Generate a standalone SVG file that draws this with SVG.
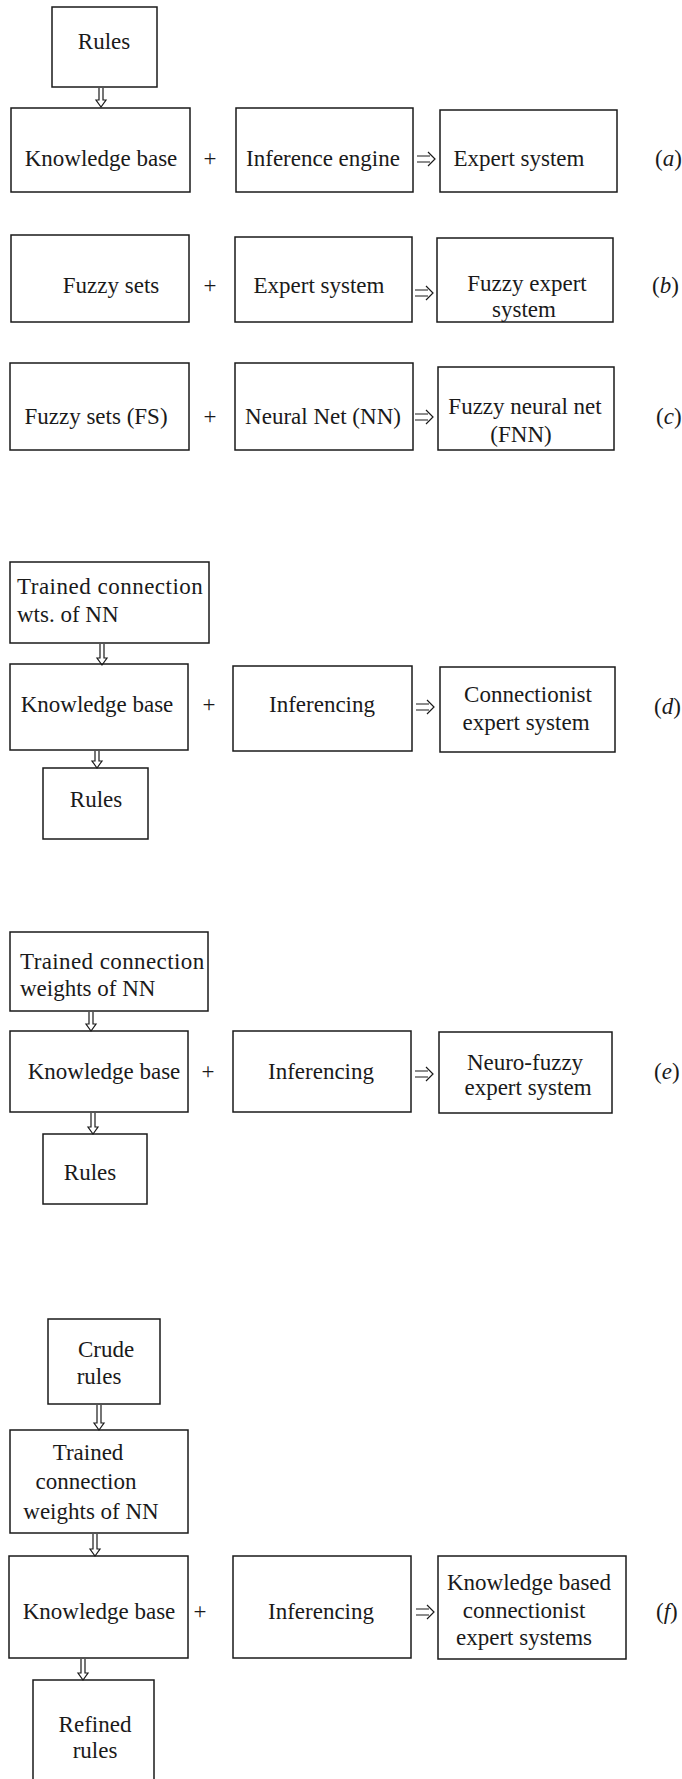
<svg xmlns="http://www.w3.org/2000/svg" width="682" height="1779" viewBox="0 0 682 1779">
<style>
.box{fill:none;stroke:#1a1a1a;stroke-width:1.5}
.t{font-family:"Liberation Serif","Times New Roman",serif;font-size:23px;fill:#1a1a1a;text-anchor:middle}
.l{font-family:"Liberation Serif","Times New Roman",serif;font-size:23px;fill:#1a1a1a;text-anchor:start}
.i{font-style:italic}
.arr{fill:none;stroke:#1a1a1a;stroke-width:1.2;stroke-linejoin:miter}
</style>
<rect width="682" height="1779" fill="#ffffff"/>
<g id="connectors">
<path class="arr" d="M99,88 V100 H96 L101,107 L106,100 H103 V88"/>
<path class="arr" d="M417,156 H430 M417,162 H430 M428,152 L435,159 L428,166"/>
<path class="arr" d="M415,290 H428 M415,296 H428 M426,286 L433,293 L426,300"/>
<path class="arr" d="M415,414 H428 M415,420 H428 M426,410 L433,417 L426,424"/>
<path class="arr" d="M100,644 V658 H97 L102,665 L107,658 H104 V644"/>
<path class="arr" d="M95,751 V761 H92 L97,768 L102,761 H99 V751"/>
<path class="arr" d="M416,704 H429 M416,710 H429 M427,700 L434,707 L427,714"/>
<path class="arr" d="M89,1012 V1024 H86 L91,1031 L96,1024 H93 V1012"/>
<path class="arr" d="M91,1113 V1127 H88 L93,1134 L98,1127 H95 V1113"/>
<path class="arr" d="M415,1071 H428 M415,1077 H428 M426,1067 L433,1074 L426,1081"/>
<path class="arr" d="M97,1405 V1423 H94 L99,1430 L104,1423 H101 V1405"/>
<path class="arr" d="M93,1534 V1549 H90 L95,1556 L100,1549 H97 V1534"/>
<path class="arr" d="M81,1659 V1673 H78 L83,1680 L88,1673 H85 V1659"/>
<path class="arr" d="M416,1609 H429 M416,1615 H429 M427,1605 L434,1612 L427,1619"/>
</g>
<g id="row-a">
<g id="a-rules"><rect class="box" x="52" y="7" width="105" height="80"/><text class="t" x="104" y="49">Rules</text></g>
<g id="a-kb"><rect class="box" x="11" y="108" width="179" height="84"/><text class="t" x="101" y="166">Knowledge base</text></g>
<g id="a-plus"><text class="t" x="210" y="166">+</text></g>
<g id="a-ie"><rect class="box" x="236" y="108" width="177" height="84"/><text class="t" x="323" y="166">Inference engine</text></g>
<g id="a-es"><rect class="box" x="440" y="110" width="177" height="82"/><text class="t" x="519" y="166">Expert system</text></g>
<g id="a-label"><text class="l" x="655" y="166">(<tspan class="i">a</tspan>)</text></g>
</g>
<g id="row-b">
<g id="b-fs"><rect class="box" x="11" y="235" width="178" height="87"/><text class="t" x="111" y="293">Fuzzy sets</text></g>
<g id="b-plus"><text class="t" x="210" y="293">+</text></g>
<g id="b-es"><rect class="box" x="235" y="237" width="177" height="85"/><text class="t" x="319" y="293">Expert system</text></g>
<g id="b-fes"><rect class="box" x="437" y="238" width="176" height="84"/><text class="t" x="527" y="291">Fuzzy expert</text><text class="t" x="524" y="317">system</text></g>
<g id="b-label"><text class="l" x="652" y="293">(<tspan class="i">b</tspan>)</text></g>
</g>
<g id="row-c">
<g id="c-fs"><rect class="box" x="10" y="363" width="179" height="87"/><text class="t" x="96" y="424">Fuzzy sets (FS)</text></g>
<g id="c-plus"><text class="t" x="210" y="424">+</text></g>
<g id="c-nn"><rect class="box" x="235" y="363" width="178" height="87"/><text class="t" x="323" y="424">Neural Net (NN)</text></g>
<g id="c-fnn"><rect class="box" x="438" y="367" width="176" height="83"/><text class="t" x="525" y="414">Fuzzy neural net</text><text class="t" x="521" y="442">(FNN)</text></g>
<g id="c-label"><text class="l" x="656" y="424">(<tspan class="i">c</tspan>)</text></g>
</g>
<g id="row-d">
<g id="d-tw"><rect class="box" x="10" y="562" width="199" height="81"/><text class="l" x="17" y="594" letter-spacing="0.5">Trained connection</text><text class="l" x="17" y="622">wts. of NN</text></g>
<g id="d-kb"><rect class="box" x="10" y="664" width="178" height="86"/><text class="t" x="97" y="712">Knowledge base</text></g>
<g id="d-plus"><text class="t" x="209" y="712">+</text></g>
<g id="d-inf"><rect class="box" x="233" y="666" width="179" height="85"/><text class="t" x="322" y="712">Inferencing</text></g>
<g id="d-ces"><rect class="box" x="440" y="667" width="175" height="85"/><text class="t" x="528" y="702">Connectionist</text><text class="t" x="526" y="730">expert system</text></g>
<g id="d-label"><text class="l" x="654" y="714">(<tspan class="i">d</tspan>)</text></g>
<g id="d-rules"><rect class="box" x="43" y="768" width="105" height="71"/><text class="t" x="96" y="807">Rules</text></g>
</g>
<g id="row-e">
<g id="e-tw"><rect class="box" x="10" y="932" width="198" height="79"/><text class="l" x="20" y="969" letter-spacing="0.4">Trained connection</text><text class="l" x="20" y="996">weights of NN</text></g>
<g id="e-kb"><rect class="box" x="10" y="1031" width="178" height="81"/><text class="t" x="104" y="1079">Knowledge base</text></g>
<g id="e-plus"><text class="t" x="208" y="1079">+</text></g>
<g id="e-inf"><rect class="box" x="233" y="1031" width="178" height="81"/><text class="t" x="321" y="1079">Inferencing</text></g>
<g id="e-nfes"><rect class="box" x="439" y="1032" width="173" height="81"/><text class="t" x="525" y="1070">Neuro-fuzzy</text><text class="t" x="528" y="1095">expert system</text></g>
<g id="e-label"><text class="l" x="654" y="1079">(<tspan class="i">e</tspan>)</text></g>
<g id="e-rules"><rect class="box" x="43" y="1134" width="104" height="70"/><text class="t" x="90" y="1180">Rules</text></g>
</g>
<g id="row-f">
<g id="f-crude"><rect class="box" x="48" y="1319" width="112" height="85"/><text class="t" x="106" y="1357">Crude</text><text class="t" x="99" y="1384">rules</text></g>
<g id="f-tw"><rect class="box" x="10" y="1430" width="178" height="103"/><text class="t" x="88" y="1460">Trained</text><text class="t" x="86" y="1489">connection</text><text class="t" x="91" y="1519">weights of NN</text></g>
<g id="f-kb"><rect class="box" x="9" y="1556" width="179" height="102"/><text class="t" x="99" y="1619">Knowledge base</text></g>
<g id="f-plus"><text class="t" x="200" y="1619">+</text></g>
<g id="f-inf"><rect class="box" x="233" y="1556" width="178" height="102"/><text class="t" x="321" y="1619">Inferencing</text></g>
<g id="f-kbces"><rect class="box" x="438" y="1556" width="188" height="103"/><text class="t" x="529" y="1590">Knowledge based</text><text class="t" x="524" y="1618">connectionist</text><text class="t" x="524" y="1645">expert systems</text></g>
<g id="f-label"><text class="l" x="656" y="1619">(<tspan class="i">f</tspan>)</text></g>
<g id="f-refined"><rect class="box" x="33" y="1680" width="121" height="101"/><text class="t" x="95" y="1732">Refined</text><text class="t" x="95" y="1758">rules</text></g>
</g>
</svg>
